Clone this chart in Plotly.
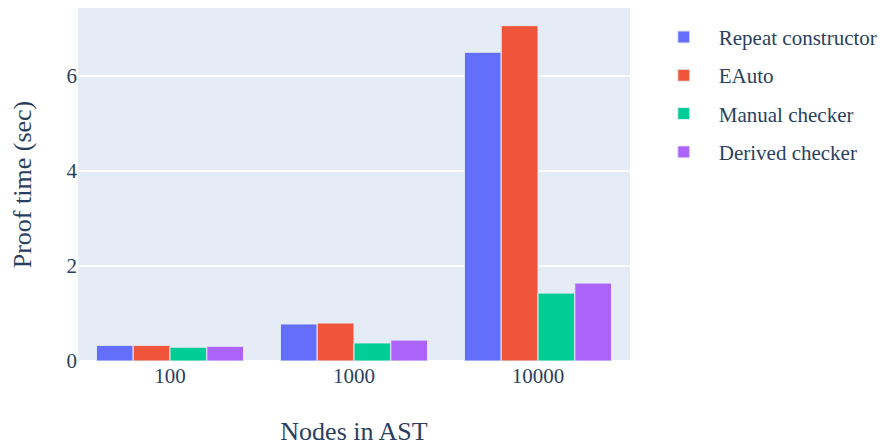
import plotly.graph_objects as go

categories = ["100", "1000", "10000"]
series_names = ["Repeat constructor", "EAuto", "Manual checker", "Derived checker"]
repeat_constructor = [0.33, 0.78, 6.50]
eauto = [0.33, 0.80, 7.06]
manual_checker = [0.29, 0.38, 1.43]
derived_checker = [0.31, 0.44, 1.64]

colors = ["#636efa", "#EF553B", "#00cc96", "#ab63fa"]
values = [repeat_constructor, eauto, manual_checker, derived_checker]

fig = go.Figure()
for name, vals, c in zip(series_names, values, colors):
    fig.add_trace(go.Bar(x=categories, y=vals, name=name, legendgroup=name,
                         marker=dict(color=c, line=dict(color="#E5ECF6", width=1))))

font_family = "Liberation Serif"
fig.update_layout(
    template="plotly",
    width=882, height=438,
    margin=dict(l=70, r=260, t=0, b=85, autoexpand=False),
    barmode="group",
    font=dict(family=font_family, size=21, color="#2a3f5f"),
    legend=dict(font=dict(size=21), x=1.034, y=0.975, itemwidth=60,
                traceorder="grouped", tracegroupgap=8),
    xaxis=dict(type="category", automargin=False,
               title=dict(text="Nodes in AST", font=dict(size=26), standoff=34),
               tickfont=dict(size=21)),
    yaxis=dict(automargin=False,
               title=dict(text="Proof time (sec)", font=dict(size=26), standoff=28),
               tickfont=dict(size=21), gridwidth=2, zerolinewidth=2,
               tickvals=[0, 2, 4, 6]),
)

fig.write_html("out.html")
